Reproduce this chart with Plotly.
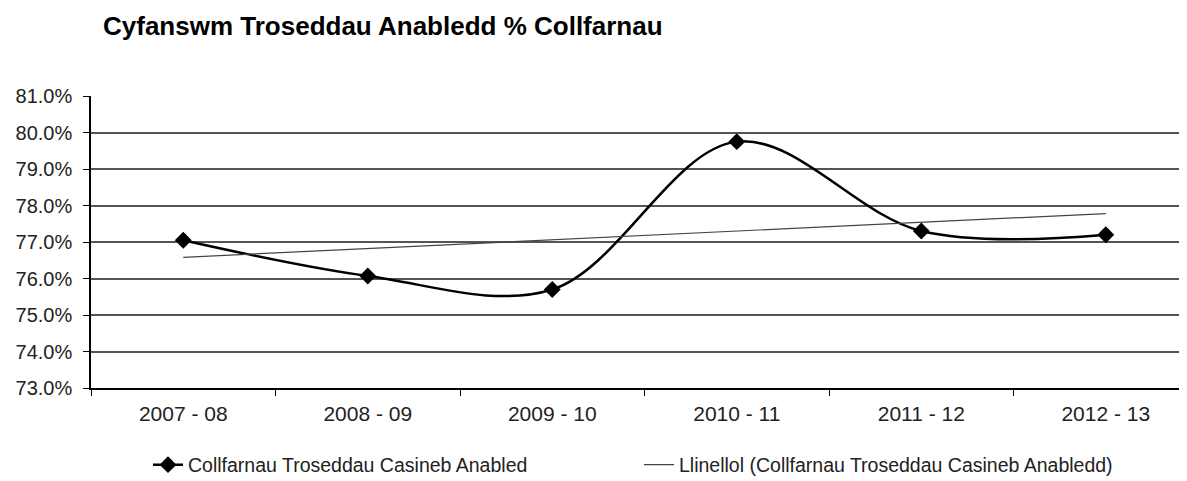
import plotly.graph_objects as go

categories = ["2007 - 08", "2008 - 09", "2009 - 10", "2010 - 11", "2011 - 12", "2012 - 13"]
conviction_rate = [0.7705, 0.7607, 0.7570, 0.7975, 0.7730, 0.7720]
trend_categories = ["2007 - 08", "2012 - 13"]
trend_values = [0.7658, 0.7778]
y_ticks = [0.73, 0.74, 0.75, 0.76, 0.77, 0.78, 0.79, 0.80, 0.81]

title_text = "Cyfanswm Troseddau Anabledd % Collfarnau"
series_name = "Collfarnau Troseddau Casineb Anabled"
trend_name = "Llinellol (Collfarnau Troseddau Casineb Anabledd)"

FONT = "Liberation Sans, Arial, sans-serif"
# page body has an 8px default margin, so the figure is sized to fill the rest
W, H = 1179, 473
L, R, T, B = 83, 0, 88, 93

fig = go.Figure()
fig.add_trace(go.Scatter(
    x=categories, y=conviction_rate, name=series_name,
    mode="lines+markers",
    line=dict(color="#000000", width=2.5, shape="spline", smoothing=1.0),
    marker=dict(symbol="diamond", size=13, color="#000000"),
))
fig.add_trace(go.Scatter(
    x=trend_categories, y=trend_values, name=trend_name,
    mode="lines",
    line=dict(color="#444444", width=1.2),
))

fig.update_layout(
    width=W, height=H,
    margin=dict(l=L, r=R, t=T, b=B, autoexpand=False),
    paper_bgcolor="white", plot_bgcolor="white",
    font=dict(family=FONT, size=19, color="#222222"),
    showlegend=True,
    legend=dict(
        orientation="h", xref="container", x=140 / W, xanchor="left",
        yref="container", y=1 - 457 / H, yanchor="middle",
        font=dict(family=FONT, size=19.5, color="#222222"),
        entrywidth=446, entrywidthmode="pixels",
        bgcolor="rgba(0,0,0,0)",
    ),
    title=dict(
        text="<b>" + title_text + "</b>", xref="container", yref="container",
        x=95 / W, y=1 - 18 / H, xanchor="left", yanchor="middle",
        font=dict(family=FONT, size=26, color="#000000"),
    ),
)

fig.update_xaxes(
    type="category", categoryorder="array", categoryarray=categories,
    range=[-0.5, 5.44], automargin=False,
    tickson="boundaries", ticks="outside", ticklen=6, tickcolor="#000000",
    ticklabelstandoff=6,
    showline=True, linecolor="#000000", linewidth=1.5,
    showgrid=False, zeroline=False,
    tickfont=dict(family=FONT, size=21, color="#222222"),
)
fig.update_yaxes(
    range=[0.73, 0.81], tickvals=y_ticks, tickformat=".1%", automargin=False,
    ticks="outside", ticklen=6, tickcolor="#000000",
    ticklabelstandoff=7,
    showline=True, linecolor="#000000", linewidth=1.5,
    showgrid=True, gridcolor="#555555", gridwidth=1.5, zeroline=False,
    tickfont=dict(family=FONT, size=20, color="#222222"),
)

fig.write_html("out.html")
